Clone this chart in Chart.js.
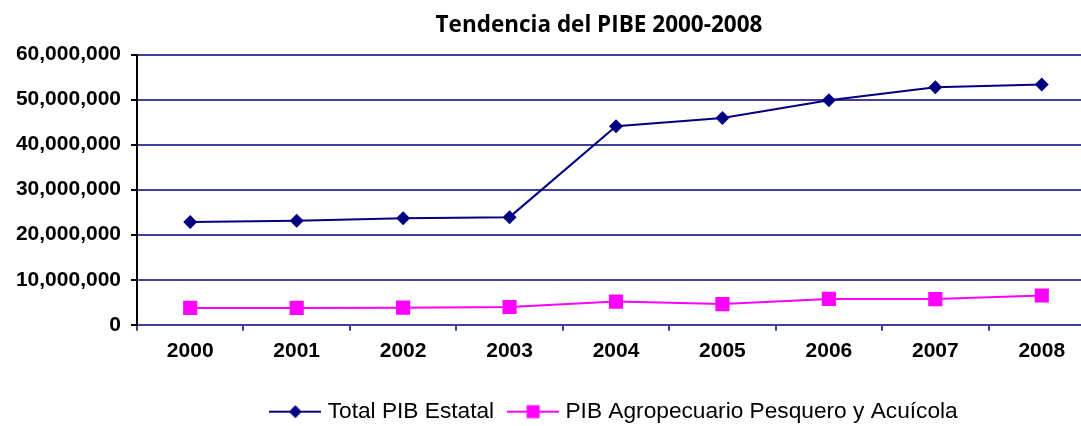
<!DOCTYPE html>
<html>
<head>
<meta charset="utf-8">
<script src="https://cdn.jsdelivr.net/npm/chart.js@4.4.1/dist/chart.umd.min.js"></script>
<style>
   html, body { margin: 0; padding: 0; background: #ffffff; overflow: hidden; }
   #wrap { position: absolute; left: 0; top: 0; width: 1198px; height: 433px; }
</style>
</head>
<body>
<div id="wrap"><canvas id="pibChart" width="1198" height="433"></canvas></div>
<script>
const years = ['2000', '2001', '2002', '2003', '2004', '2005', '2006', '2007', '2008'];
const totalPib = [22800000, 23100000, 23650000, 23900000, 44100000, 45900000, 49850000, 52750000, 53350000];
const agroPib = [3750000, 3750000, 3800000, 3950000, 5150000, 4600000, 5750000, 5700000, 6500000];
const seriesNames = ['Total PIB Estatal', 'PIB Agropecuario Pesquero y Acuícola'];
const chartTitle = 'Tendencia del PIBE 2000-2008';

const navy = '#000080';
const magenta = '#ff00ff';
const gridBlue = '#40409a';

// little line+marker swatch for the legend, Excel style
function legendSwatch(color, marker){
   let c = document.createElement('canvas');
   c.width = 52;
   c.height = 16;
   let ctx = c.getContext('2d');
   ctx.strokeStyle = color;
   ctx.lineWidth = 2;
   ctx.beginPath();
   ctx.moveTo(0, 8);
   ctx.lineTo(52, 8);
   ctx.stroke();
   ctx.fillStyle = color;
   ctx.beginPath();
   if(marker == 'diamond'){
      ctx.moveTo(26, 1.5);
      ctx.lineTo(32.5, 8);
      ctx.lineTo(26, 14.5);
      ctx.lineTo(19.5, 8);
      ctx.closePath();
   } else{
      ctx.rect(19.5, 1.5, 13, 13);
   }
   ctx.fill();
   return c;
}

let swatches = [legendSwatch(navy, 'diamond'), legendSwatch(magenta, 'square')];

let data = {
   labels: years,
   datasets: [{
      label: seriesNames[0],
      data: totalPib,
      borderColor: navy,
      backgroundColor: navy,
      borderWidth: 2,
      pointStyle: 'rectRot',
      pointRadius: 7,
      pointBorderWidth: 0,
      tension: 0
   }, {
      label: seriesNames[1],
      data: agroPib,
      borderColor: magenta,
      backgroundColor: magenta,
      borderWidth: 2,
      pointStyle: 'rect',
      pointRadius: 10,
      pointBorderWidth: 0,
      tension: 0
   }]
};

let options = {
   responsive: false,
   animation: false,
   layout: { padding: 0 },
   scales: {
      x: {
         offset: true,
         grid: {
            offset: true,
            drawOnChartArea: false,
            color: gridBlue,
            lineWidth: 2,
            tickLength: 6
         },
         border: { color: gridBlue, width: 2 },
         ticks: {
            color: '#000000',
            padding: 8,
            font: { family: "'Liberation Sans', Arial, sans-serif", size: 21, weight: 'bold' }
         },
         afterFit: (s) => { s.height = 57.5; }
      },
      y: {
         min: 0,
         max: 60000000,
         ticks: {
            stepSize: 10000000,
            color: '#000000',
            padding: 10,
            font: { family: "'Liberation Sans', Arial, sans-serif", size: 21, weight: 'bold' },
            callback: (v) => v.toLocaleString('en-US')
         },
         grid: {
            color: gridBlue,
            lineWidth: 2,
            tickColor: '#000000',
            tickLength: 6
         },
         border: { color: '#000000', width: 2 },
         afterFit: (s) => { s.width = 137; }
      },
      // empty right axis, only reserves the space cut off on the right
      yr: {
         position: 'right',
         display: true,
         grid: { display: false },
         border: { display: false },
         ticks: { display: false },
         afterFit: (s) => { s.width = 103; }
      }
   },
   plugins: {
      title: {
         display: true,
         text: chartTitle,
         color: '#000000',
         font: { family: "'Open Sans', Lato, sans-serif", size: 22.5, weight: 'bold' },
         padding: { top: 12, bottom: 15.5 }
      },
      legend: {
         display: true,
         position: 'bottom',
         fullSize: false,
         labels: {
            color: '#000000',
            font: { family: "'Liberation Sans', Arial, sans-serif", size: 22.7 },
            usePointStyle: true,
            pointStyleWidth: 42,
            padding: 18,
            generateLabels: (chart) => chart.data.datasets.map((ds, i) => ({
               text: ds.label,
               pointStyle: swatches[i],
               fillStyle: ds.borderColor,
               strokeStyle: ds.borderColor,
               lineWidth: 0,
               hidden: false,
               datasetIndex: i
            }))
         }
      },
      tooltip: { enabled: false }
   }
};

new Chart(document.getElementById('pibChart').getContext('2d'), {
   type: 'line',
   data: data,
   options: options
});
</script>
</body>
</html>
